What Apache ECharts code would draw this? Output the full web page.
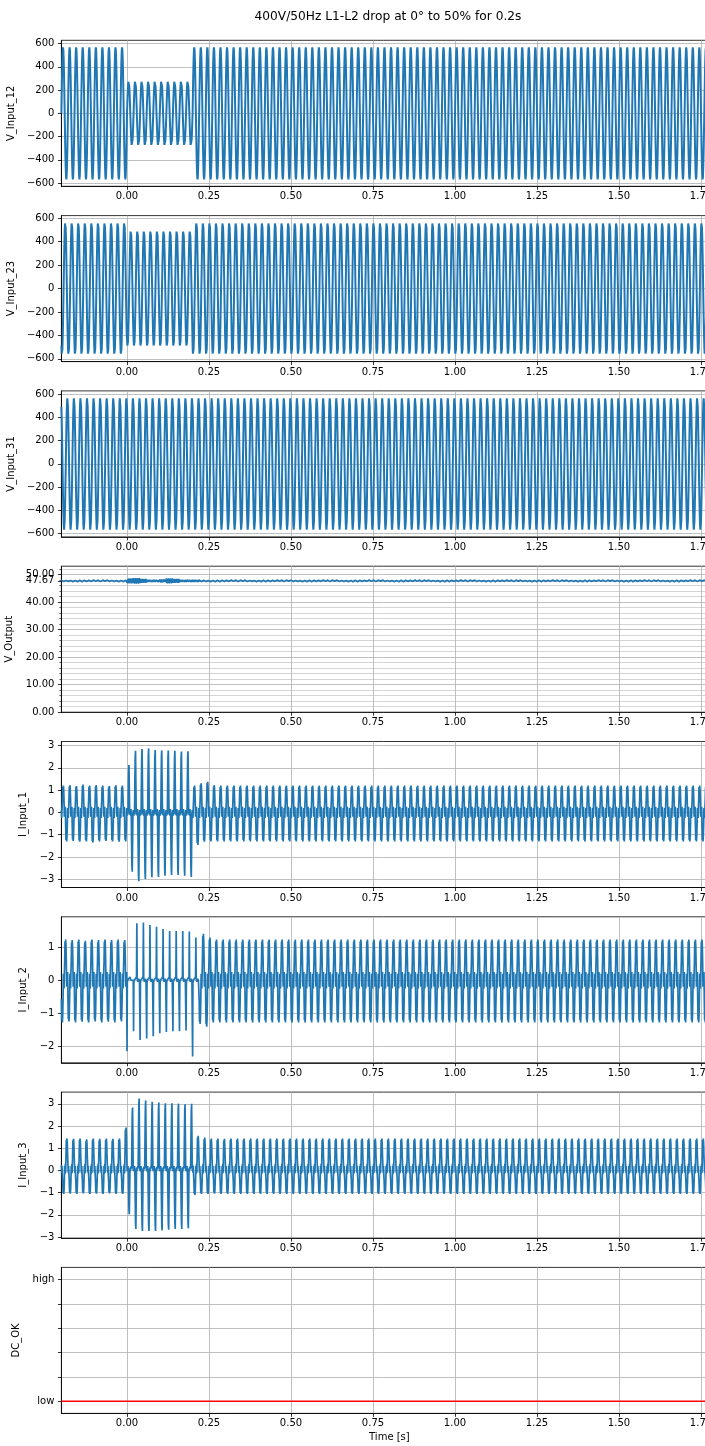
<!DOCTYPE html>
<html><head><meta charset="utf-8">
<script src="https://cdn.jsdelivr.net/npm/echarts@6/dist/echarts.min.js"></script>
<style>html,body{margin:0;padding:0;background:#fff}#c{width:705px;height:1446px}</style>
</head><body><div id="c"></div>
<script>
// ================= DATA =================
const tStart = -0.2, cycleLen = 0.02, samplesPerCycle = 20, nCycles = 100;
const xTicks = [0, 0.25, 0.5, 0.75, 1.0, 1.25, 1.5, 1.75];

// one-cycle waveform shapes (normalised), 1 ms per sample
const v12Shape = [0, 0.309, 0.588, 0.809, 0.951, 1, 0.951, 0.809, 0.588, 0.309, 0, -0.309, -0.588, -0.809, -0.951, -1, -0.951, -0.809, -0.588, -0.309];
const v23Shape = [-0.866, -0.978, -0.995, -0.914, -0.743, -0.5, -0.208, 0.105, 0.407, 0.669, 0.866, 0.978, 0.995, 0.914, 0.743, 0.5, 0.208, -0.105, -0.407, -0.669];
const v31Shape = [0.866, 0.669, 0.407, 0.105, -0.208, -0.5, -0.743, -0.914, -0.995, -0.978, -0.866, -0.669, -0.407, -0.105, 0.208, 0.5, 0.743, 0.914, 0.995, 0.978];
// voltage peak envelopes: [number of cycles, peak volts]
const v12Peaks = [[10, 568], [10, 285], [80, 568]];
const v23Peaks = [[10, 568], [10, 497], [80, 568]];
const v31Peaks = [[100, 568]];

// V_Output
const voutLevel = 47.67;
const voutRipple = [0.3, -0.25, 0.2, -0.3, 0.25, -0.2, 0.3, -0.25, 0.15, -0.3, 0.25, -0.2, 0.3, -0.15, 0.2, -0.3, 0.25, -0.2, 0.3, -0.25];
const voutRippleScale = [1, 1, 1, 1, 1, 1, 1, 1, 1, 1, 3, 3.5, 2.5, 1.5, 1.5, 2, 3, 2.5, 1.5, 1.5, 1.5, 1.2, 1, 1, 1];
const voutRippleScaleSteady = 1;

// current shapes (|v|>=0.4 = pulse part, scaled by the cycle's peak)
const i1SteadyShape = [0.1, -0.25, 0.2, 0.45, 0.95, 0.8, 1.0, 0.85, 0.45, -0.2, 0.2, -0.15, 0.25, -0.45, -0.95, -0.8, -1.0, -0.85, -0.45, 0.2];
const i1DipShape = [0, -0.15, 0.1, -0.1, 0.5, 0.9, 1.0, 0.5, 0.1, -0.1, 0.1, -0.15, 0.15, -0.1, -0.5, -0.9, -1.0, -0.5, -0.1, 0.1];
const i2SteadyShape = [-0.45, -0.95, -0.8, -1.0, -0.85, -0.45, 0.2, 0.1, -0.25, 0.2, 0.45, 0.95, 0.8, 1.0, 0.85, 0.45, -0.2, 0.2, -0.15, 0.25];
const i2DipShape = [-1.0, -0.08, 0.0, 0.05, -0.05, 0.05, 0.0, -0.05, 0.05, 0.1, 1.0, 0.05, 0.0, -0.05, 0.05, -0.05, 0.05, 0.0, -0.05, 0.0];
const i3SteadyShape = [0.25, -0.1, 0.2, -0.2, -0.45, -0.95, -0.8, -1.0, -0.85, -0.45, 0.2, -0.15, 0.3, -0.1, 0.45, 0.95, 0.8, 1.0, 0.85, 0.45];
const i3DipShape = [0.1, -0.05, 0.1, 0.2, -0.1, -0.5, -0.9, -1.0, -0.5, 0.1, -0.05, 0.15, 0.05, 0.2, 0.1, 0.5, 0.9, 1.0, 0.5, 0.0];

// per-cycle pulse peaks (first 25 cycles read individually, then steady value)
const i1Pos = [1.2, 1.22, 1.18, 1.25, 1.2, 1.22, 1.2, 1.18, 1.22, 1.2, 2.12, 2.76, 2.84, 2.87, 2.8, 2.78, 2.78, 2.76, 2.73, 2.74, 1.2, 1.3, 1.37, 1.22, 1.2];
const i1Neg = [-1.3, -1.28, -1.32, -1.3, -1.35, -1.3, -1.28, -1.3, -1.32, -1.3, -2.66, -3.09, -2.99, -2.91, -2.9, -2.84, -2.81, -2.81, -2.84, -2.9, -1.46, -1.31, -1.3, -1.3, -1.3];
const i1Mode = 'SSSSSSSSSSDDDDDDDDDDSSSSS';
const i1Steady = [1.2, -1.3];

const i2Pos = [1.24, 1.22, 1.24, 1.2, 1.24, 1.22, 1.24, 1.22, 1.24, 1.22, 0.1, 1.73, 1.76, 1.68, 1.63, 1.56, 1.5, 1.5, 1.5, 1.48, 1.3, 1.41, 1.3, 1.24, 1.24];
const i2Neg = [-1.28, -1.25, -1.28, -1.26, -1.28, -1.25, -1.28, -1.26, -1.28, -1.25, -2.16, -1.55, -1.82, -1.77, -1.7, -1.61, -1.57, -1.55, -1.55, -1.53, -2.32, -1.33, -1.41, -1.28, -1.28];
const i2Mode = 'SSSSSSSSSSDDDDDDDDDDDSSSS';
const i2Steady = [1.24, -1.28];

const i3Pos = [1.44, 1.42, 1.44, 1.4, 1.44, 1.42, 1.44, 1.42, 1.44, 1.93, 2.83, 3.24, 3.15, 3.09, 3.06, 3.03, 3.03, 3.01, 2.98, 3.0, 1.56, 1.48, 1.44, 1.44, 1.42];
const i3Neg = [-1.06, -1.05, -1.06, -1.04, -1.06, -1.05, -1.06, -1.04, -1.06, -1.06, -1.98, -2.64, -2.73, -2.73, -2.73, -2.7, -2.67, -2.64, -2.64, -2.61, -1.11, -1.06, -1.06, -1.05, -1.06];
const i3Mode = 'SSSSSSSSSSDDDDDDDDDDSSSSS';
const i3Steady = [1.44, -1.06];

// DC_OK
const dcOkTimes = [-0.2, 1.8];
const dcOkValues = [0, 0];

// tick labels
const vTicks = [-600, -400, -200, 0, 200, 400, 600];
const voutTicks = [0, 10, 20, 30, 40, 47.67];
const voutTopTicks = [50];
const voutMinorTicks = [2, 4, 6, 8, 12, 14, 16, 18, 22, 24, 26, 28, 32, 34, 36, 38, 42, 44, 46, 48, 52];
const i1Ticks = [-3, -2, -1, 0, 1, 2, 3];
const i2Ticks = [-2, -1, 0, 1];
const i3Ticks = [-3, -2, -1, 0, 1, 2, 3];
const dcTicks = [0, 0.2, 0.4, 0.6, 0.8, 1];
const dcLabels = ['low', 'high'];

// ================= BUILD =================
function expandRuns(runs) { const o = []; runs.forEach(([n, v]) => { for (let i = 0; i < n; i++) o.push(v); }); return o; }
function extend(arr, steady) { const o = arr.slice(); while (o.length < nCycles) o.push(steady); return o; }
function tOf(k, i) { return +(tStart + k * cycleLen + i * cycleLen / samplesPerCycle).toFixed(5); }

function buildVoltage(shape, runs) {
  const amps = expandRuns(runs), pts = [];
  for (let k = 0; k < nCycles; k++) for (let i = 0; i < samplesPerCycle; i++) pts.push([tOf(k, i), shape[i] * amps[k]]);
  pts.push([tOf(nCycles, 0), shape[0] * amps[nCycles - 1]]);
  return pts;
}
function buildVout() {
  const sc = extend(voutRippleScale, voutRippleScaleSteady), pts = [];
  for (let k = 0; k < nCycles; k++) for (let i = 0; i < samplesPerCycle; i++) pts.push([tOf(k, i), voutLevel + voutRipple[i] * sc[k]]);
  pts.push([tOf(nCycles, 0), voutLevel]);
  return pts;
}
function buildCurrent(sShape, dShape, pos, neg, mode, steady) {
  const P = extend(pos, steady[0]), N = extend(neg, steady[1]), pts = [];
  for (let k = 0; k < nCycles; k++) {
    const sh = (mode[k] === 'D') ? dShape : sShape;
    for (let i = 0; i < samplesPerCycle; i++) {
      const s = sh[i];
      const v = s >= 0.4 ? s * P[k] : (s <= -0.4 ? s * (-N[k]) : s);
      pts.push([tOf(k, i), v]);
    }
  }
  pts.push([tOf(nCycles, 0), 0]);
  return pts;
}

const FONT = 'DejaVu Sans';
const BLUE = '#1f77b4';
const GRIDC = '#b0b0b0';
const tops = [40.3, 215.6, 390.9, 566.2, 741.5, 916.8, 1092.1, 1267.4];
const H = 146, LEFT = 61.4, W = 656;
const minus = s => String(s).replace('-', '\u2212');

const panels = [
  { name: 'V_Input_12', min: -628, max: 628, ticks: vTicks, labels: vTicks, fmt: v => minus(v), gap: 41, lw: 2.0, data: buildVoltage(v12Shape, v12Peaks) },
  { name: 'V_Input_23', min: -623, max: 623, ticks: vTicks, labels: vTicks, fmt: v => minus(v), gap: 41, lw: 2.0, data: buildVoltage(v23Shape, v23Peaks) },
  { name: 'V_Input_31', min: -628, max: 628, ticks: vTicks, labels: vTicks, fmt: v => minus(v), gap: 41, lw: 2.0, data: buildVoltage(v31Shape, v31Peaks) },
  { name: 'V_Output', min: 0, max: 53, ticks: voutTicks.concat(voutTopTicks), labels: voutTicks, fmt: v => Number(v).toFixed(2), gap: 41, lw: 1.6, data: buildVout() },
  { name: 'I_Input_1', min: -3.37, max: 3.18, ticks: i1Ticks, labels: i1Ticks, fmt: v => minus(v), gap: 27.5, lw: 1.7, data: buildCurrent(i1SteadyShape, i1DipShape, i1Pos, i1Neg, i1Mode, i1Steady) },
  { name: 'I_Input_2', min: -2.51, max: 1.93, ticks: i2Ticks, labels: i2Ticks, fmt: v => minus(v), gap: 27.5, lw: 1.7, data: buildCurrent(i2SteadyShape, i2DipShape, i2Pos, i2Neg, i2Mode, i2Steady) },
  { name: 'I_Input_3', min: -3.05, max: 3.53, ticks: i3Ticks, labels: i3Ticks, fmt: v => minus(v), gap: 27.5, lw: 1.7, data: buildCurrent(i3SteadyShape, i3DipShape, i3Pos, i3Neg, i3Mode, i3Steady) },
  { name: 'DC_OK', min: -0.1, max: 1.1, ticks: dcTicks, labels: [0, 1], fmt: v => (Number(v) === 0 ? dcLabels[0] : dcLabels[1]), gap: 36, lw: 1.5, data: dcOkTimes.map((t, i) => [t, dcOkValues[i]]), color: '#ff0000' }
];

const grid = [], xAxis = [], yAxis = [], series = [];
const lblStyle = { fontFamily: FONT, fontSize: 10, color: '#000' };
panels.forEach((p, i) => {
  grid.push({ left: LEFT, top: tops[i], width: W, height: H, show: true, borderColor: '#000', borderWidth: 0.8, backgroundColor: 'transparent', containLabel: false, outerBoundsMode: 'none' });
  const xa = {
    type: 'value', gridIndex: i, min: -0.2, max: 1.8,
    axisLine: { show: true, onZero: false, lineStyle: { color: '#000', width: 0.8 } },
    axisTick: { show: true, length: 3.5, customValues: xTicks, lineStyle: { color: '#000', width: 0.8 } },
    axisLabel: Object.assign({ show: true, customValues: xTicks, formatter: v => Number(v).toFixed(2), margin: 5.5 }, lblStyle),
    splitLine: { show: true, lineStyle: { color: GRIDC, width: 0.8 } }
  };
  if (i === panels.length - 1) {
    xa.name = 'Time [s]'; xa.nameLocation = 'middle'; xa.nameGap = 19;
    xa.nameTextStyle = lblStyle;
  }
  xAxis.push(xa);
  yAxis.push({
    type: 'value', gridIndex: i, min: p.min, max: p.max,
    name: p.name, nameLocation: 'middle', nameGap: p.gap,
    nameTextStyle: lblStyle,
    axisLine: { show: true, onZero: false, lineStyle: { color: '#000', width: 0.8 } },
    axisTick: { show: true, length: 3.5, customValues: p.ticks, lineStyle: { color: '#000', width: 0.8 } },
    axisLabel: Object.assign({ show: true, customValues: p.labels, formatter: p.fmt, margin: 7, hideOverlap: false }, lblStyle),
    splitLine: { show: true, lineStyle: { color: GRIDC, width: 0.8 } }
  });
  series.push({
    type: 'line', xAxisIndex: i, yAxisIndex: i, data: p.data, showSymbol: false, symbol: 'none',
    lineStyle: { color: p.color || BLUE, width: p.lw }, itemStyle: { color: p.color || BLUE },
    silent: true, animation: false, z: 3
  });
});
// minor gridlines for V_Output
yAxis.push({
  type: 'value', gridIndex: 3, min: 0, max: 53, position: 'left',
  axisLine: { show: false, onZero: false }, axisLabel: { show: false },
  axisTick: { show: true, length: 2, customValues: voutMinorTicks, lineStyle: { color: '#000', width: 0.6 } },
  splitLine: { show: true, lineStyle: { color: '#d0d0d0', width: 0.9 } }
});
// 50.00 label of V_Output (overlapping 47.67 like the reference)
yAxis.push({
  type: 'value', gridIndex: 3, min: 0, max: 53, position: 'left',
  axisLine: { show: false, onZero: false }, axisTick: { show: false }, splitLine: { show: false },
  axisLabel: Object.assign({ show: true, customValues: voutTopTicks, formatter: v => Number(v).toFixed(2), margin: 7 }, lblStyle)
});

const chart = echarts.init(document.getElementById('c'), null, { renderer: 'canvas' });
chart.setOption({
  animation: false,
  backgroundColor: '#fff',
  graphic: [{ type: 'text', x: 388, y: 17, style: { text: '400V/50Hz L1-L2 drop at 0\u00b0 to 50% for 0.2s', fontFamily: FONT, fontSize: 12.2, fill: '#000', textAlign: 'center', textVerticalAlign: 'middle' } }],
  grid, xAxis, yAxis, series
});
</script></body></html>
